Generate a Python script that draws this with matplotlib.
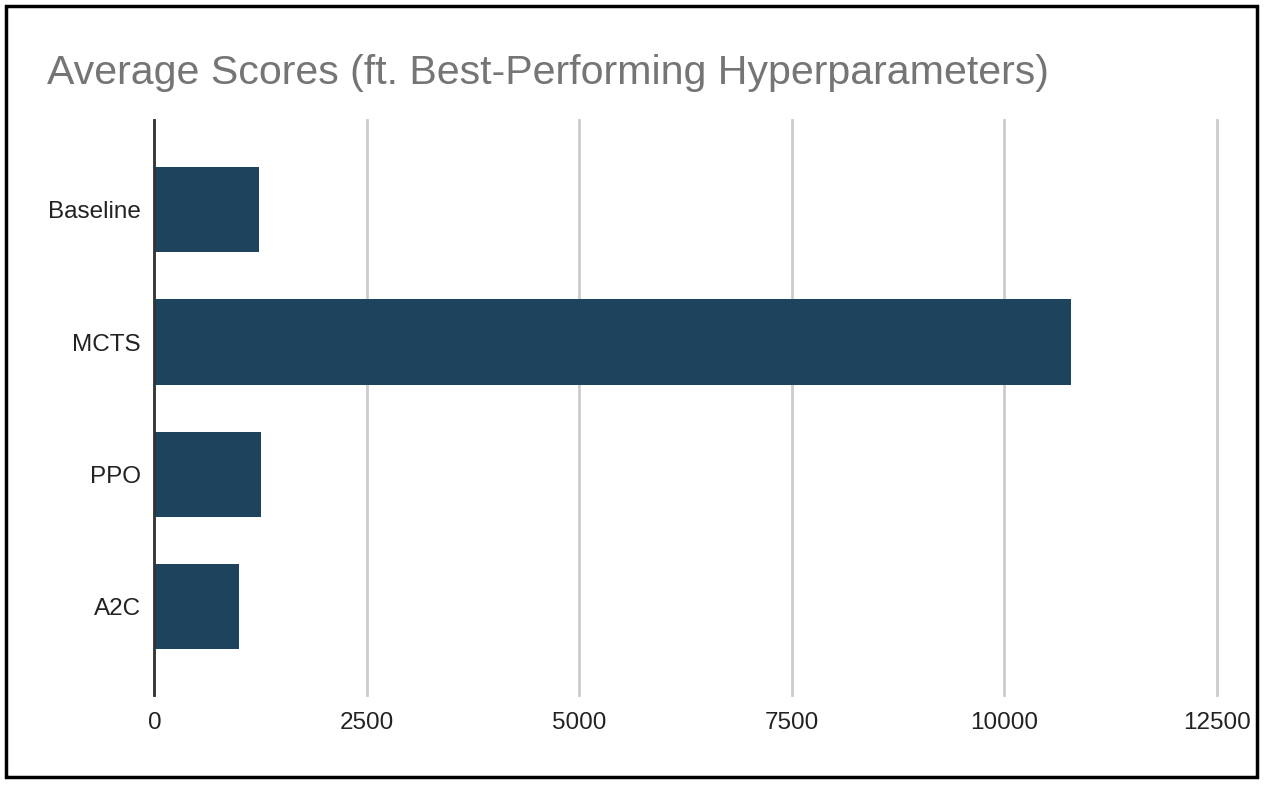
import matplotlib.pyplot as plt
from matplotlib.patches import Rectangle

plt.rcParams['font.family'] = ['Liberation Sans', 'DejaVu Sans']

# Average scores per agent
agents = ['Baseline', 'MCTS', 'PPO', 'A2C']
scores = [1233, 10780, 1256, 990]
x_ticks = [0, 2500, 5000, 7500, 10000, 12500]

bar_color = '#1d445c'

fig = plt.figure(figsize=(12.64, 7.86), dpi=100)
ax = fig.add_axes([0.1222, 0.1158, 0.8406, 0.7316])

ax.barh(agents, scores, height=0.645, color=bar_color, zorder=3)

ax.set_xlim(0, 12500)
ax.set_ylim(3.67, -0.68)
ax.set_xticks(x_ticks)
ax.set_xticklabels([str(t) for t in x_ticks])
ax.grid(axis='x', color='#cccccc', linewidth=2, zorder=0)
for gl in ax.get_xgridlines():
    gl.set_clip_on(False)
ax.tick_params(axis='both', length=0, labelsize=17.5, colors='#222222')
ax.tick_params(axis='x', pad=12.5)
ax.tick_params(axis='y', pad=9.7)

for side in ['top', 'right', 'bottom']:
    ax.spines[side].set_visible(False)
ax.spines['left'].set_color('#333333')
ax.spines['left'].set_linewidth(2)
ax.spines['left'].set_zorder(4)

fig.text(47 / 1264, 1 - 73 / 786, 'Average Scores (ft. Best-Performing Hyperparameters)',
         fontsize=29.6, color='#757575', ha='left', va='center')

# outer border
fig.patches.append(Rectangle((6 / 1264, 9 / 786), 1251 / 1264, 771 / 786,
                             transform=fig.transFigure, fill=False,
                             edgecolor='black', linewidth=2.5))

fig.savefig('out.png', dpi=100)
